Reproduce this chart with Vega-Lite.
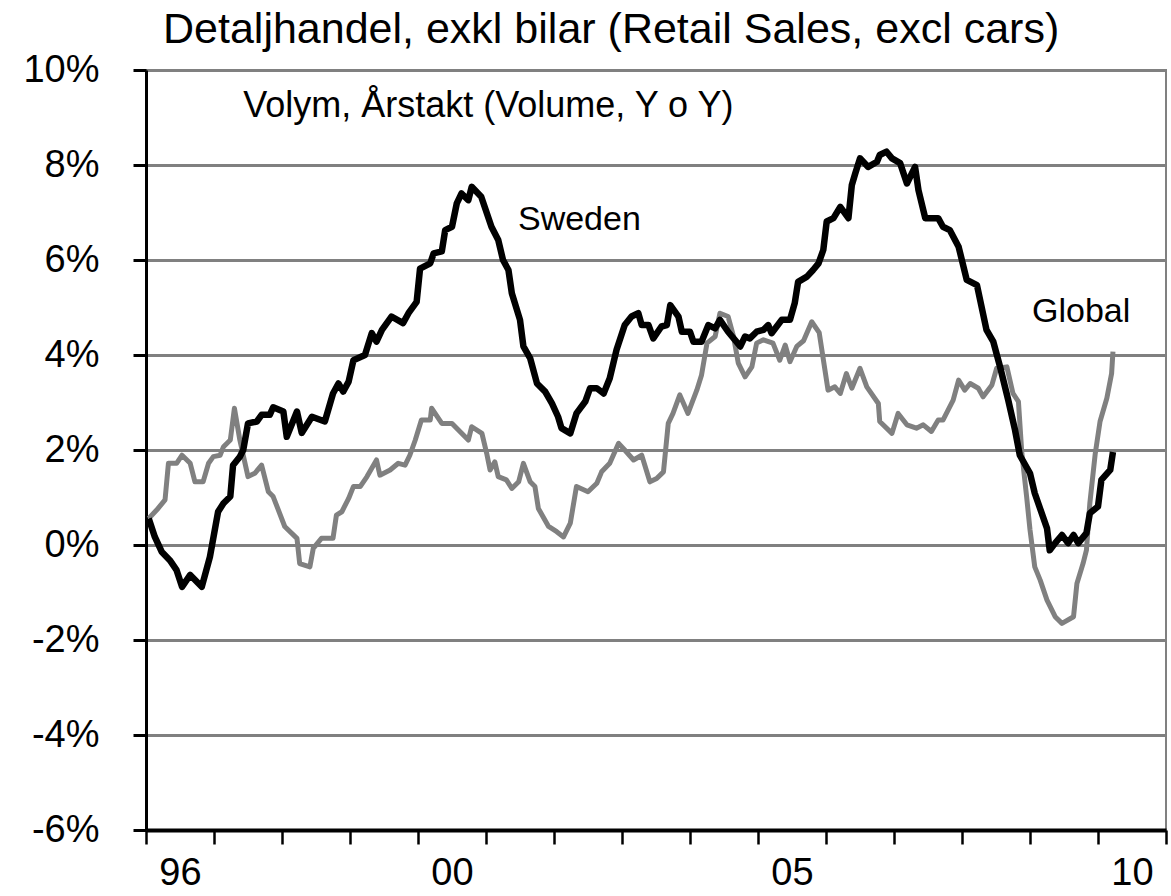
{
  "$schema": "https://vega.github.io/schema/vega-lite/v6.json",
  "autosize": {"type": "none"},
  "padding": {"left": 146, "top": 70, "right": 5, "bottom": 66},
  "width": 1020,
  "height": 760,
  "background": "white",
  "config": {
    "font": "Liberation Sans",
    "view": {"stroke": "#808080", "strokeWidth": 2}
  },
  "datasets": {
    "retail": [
      {"series": "Sweden", "t": 1996.04, "v": 0.56},
      {"series": "Sweden", "t": 1996.13, "v": 0.17},
      {"series": "Sweden", "t": 1996.23, "v": -0.14},
      {"series": "Sweden", "t": 1996.35, "v": -0.32},
      {"series": "Sweden", "t": 1996.45, "v": -0.53},
      {"series": "Sweden", "t": 1996.53, "v": -0.88},
      {"series": "Sweden", "t": 1996.65, "v": -0.63},
      {"series": "Sweden", "t": 1996.82, "v": -0.88},
      {"series": "Sweden", "t": 1996.94, "v": -0.25},
      {"series": "Sweden", "t": 1997.06, "v": 0.70},
      {"series": "Sweden", "t": 1997.14, "v": 0.88},
      {"series": "Sweden", "t": 1997.24, "v": 1.02},
      {"series": "Sweden", "t": 1997.28, "v": 1.68},
      {"series": "Sweden", "t": 1997.38, "v": 1.86},
      {"series": "Sweden", "t": 1997.43, "v": 2.00},
      {"series": "Sweden", "t": 1997.50, "v": 2.56},
      {"series": "Sweden", "t": 1997.63, "v": 2.60},
      {"series": "Sweden", "t": 1997.70, "v": 2.74},
      {"series": "Sweden", "t": 1997.82, "v": 2.74},
      {"series": "Sweden", "t": 1997.87, "v": 2.90},
      {"series": "Sweden", "t": 1998.02, "v": 2.81},
      {"series": "Sweden", "t": 1998.07, "v": 2.28},
      {"series": "Sweden", "t": 1998.22, "v": 2.81},
      {"series": "Sweden", "t": 1998.29, "v": 2.36},
      {"series": "Sweden", "t": 1998.44, "v": 2.70},
      {"series": "Sweden", "t": 1998.63, "v": 2.60},
      {"series": "Sweden", "t": 1998.75, "v": 3.19},
      {"series": "Sweden", "t": 1998.83, "v": 3.40},
      {"series": "Sweden", "t": 1998.90, "v": 3.23},
      {"series": "Sweden", "t": 1998.98, "v": 3.44},
      {"series": "Sweden", "t": 1999.05, "v": 3.89},
      {"series": "Sweden", "t": 1999.22, "v": 4.00},
      {"series": "Sweden", "t": 1999.32, "v": 4.46},
      {"series": "Sweden", "t": 1999.39, "v": 4.28},
      {"series": "Sweden", "t": 1999.47, "v": 4.53},
      {"series": "Sweden", "t": 1999.61, "v": 4.81},
      {"series": "Sweden", "t": 1999.78, "v": 4.67},
      {"series": "Sweden", "t": 1999.86, "v": 4.88},
      {"series": "Sweden", "t": 1999.98, "v": 5.12},
      {"series": "Sweden", "t": 2000.03, "v": 5.82},
      {"series": "Sweden", "t": 2000.18, "v": 5.93},
      {"series": "Sweden", "t": 2000.23, "v": 6.14},
      {"series": "Sweden", "t": 2000.35, "v": 6.18},
      {"series": "Sweden", "t": 2000.40, "v": 6.63},
      {"series": "Sweden", "t": 2000.50, "v": 6.70},
      {"series": "Sweden", "t": 2000.57, "v": 7.19},
      {"series": "Sweden", "t": 2000.64, "v": 7.40},
      {"series": "Sweden", "t": 2000.74, "v": 7.26},
      {"series": "Sweden", "t": 2000.79, "v": 7.54},
      {"series": "Sweden", "t": 2000.93, "v": 7.33},
      {"series": "Sweden", "t": 2001.08, "v": 6.70},
      {"series": "Sweden", "t": 2001.18, "v": 6.42},
      {"series": "Sweden", "t": 2001.25, "v": 6.00},
      {"series": "Sweden", "t": 2001.33, "v": 5.79},
      {"series": "Sweden", "t": 2001.38, "v": 5.30},
      {"series": "Sweden", "t": 2001.50, "v": 4.74},
      {"series": "Sweden", "t": 2001.55, "v": 4.18},
      {"series": "Sweden", "t": 2001.65, "v": 3.93},
      {"series": "Sweden", "t": 2001.75, "v": 3.40},
      {"series": "Sweden", "t": 2001.87, "v": 3.23},
      {"series": "Sweden", "t": 2001.97, "v": 2.98},
      {"series": "Sweden", "t": 2002.06, "v": 2.70},
      {"series": "Sweden", "t": 2002.11, "v": 2.46},
      {"series": "Sweden", "t": 2002.24, "v": 2.35},
      {"series": "Sweden", "t": 2002.33, "v": 2.77},
      {"series": "Sweden", "t": 2002.46, "v": 3.02},
      {"series": "Sweden", "t": 2002.53, "v": 3.30},
      {"series": "Sweden", "t": 2002.63, "v": 3.30},
      {"series": "Sweden", "t": 2002.73, "v": 3.19},
      {"series": "Sweden", "t": 2002.82, "v": 3.51},
      {"series": "Sweden", "t": 2002.92, "v": 4.11},
      {"series": "Sweden", "t": 2003.04, "v": 4.63},
      {"series": "Sweden", "t": 2003.14, "v": 4.81},
      {"series": "Sweden", "t": 2003.24, "v": 4.88},
      {"series": "Sweden", "t": 2003.29, "v": 4.63},
      {"series": "Sweden", "t": 2003.39, "v": 4.63},
      {"series": "Sweden", "t": 2003.46, "v": 4.35},
      {"series": "Sweden", "t": 2003.58, "v": 4.60},
      {"series": "Sweden", "t": 2003.66, "v": 4.63},
      {"series": "Sweden", "t": 2003.71, "v": 5.05},
      {"series": "Sweden", "t": 2003.83, "v": 4.81},
      {"series": "Sweden", "t": 2003.88, "v": 4.49},
      {"series": "Sweden", "t": 2004.00, "v": 4.49},
      {"series": "Sweden", "t": 2004.05, "v": 4.28},
      {"series": "Sweden", "t": 2004.17, "v": 4.28},
      {"series": "Sweden", "t": 2004.27, "v": 4.63},
      {"series": "Sweden", "t": 2004.37, "v": 4.56},
      {"series": "Sweden", "t": 2004.44, "v": 4.74},
      {"series": "Sweden", "t": 2004.56, "v": 4.49},
      {"series": "Sweden", "t": 2004.74, "v": 4.18},
      {"series": "Sweden", "t": 2004.81, "v": 4.39},
      {"series": "Sweden", "t": 2004.88, "v": 4.35},
      {"series": "Sweden", "t": 2004.98, "v": 4.49},
      {"series": "Sweden", "t": 2005.08, "v": 4.53},
      {"series": "Sweden", "t": 2005.15, "v": 4.63},
      {"series": "Sweden", "t": 2005.20, "v": 4.46},
      {"series": "Sweden", "t": 2005.35, "v": 4.74},
      {"series": "Sweden", "t": 2005.47, "v": 4.74},
      {"series": "Sweden", "t": 2005.54, "v": 5.09},
      {"series": "Sweden", "t": 2005.59, "v": 5.54},
      {"series": "Sweden", "t": 2005.72, "v": 5.65},
      {"series": "Sweden", "t": 2005.81, "v": 5.79},
      {"series": "Sweden", "t": 2005.89, "v": 5.93},
      {"series": "Sweden", "t": 2005.96, "v": 6.21},
      {"series": "Sweden", "t": 2006.01, "v": 6.81},
      {"series": "Sweden", "t": 2006.11, "v": 6.88},
      {"series": "Sweden", "t": 2006.21, "v": 7.12},
      {"series": "Sweden", "t": 2006.33, "v": 6.88},
      {"series": "Sweden", "t": 2006.38, "v": 7.58},
      {"series": "Sweden", "t": 2006.43, "v": 7.82},
      {"series": "Sweden", "t": 2006.50, "v": 8.14},
      {"series": "Sweden", "t": 2006.62, "v": 7.96},
      {"series": "Sweden", "t": 2006.75, "v": 8.07},
      {"series": "Sweden", "t": 2006.79, "v": 8.21},
      {"series": "Sweden", "t": 2006.89, "v": 8.28},
      {"series": "Sweden", "t": 2006.97, "v": 8.14},
      {"series": "Sweden", "t": 2007.09, "v": 8.04},
      {"series": "Sweden", "t": 2007.19, "v": 7.61},
      {"series": "Sweden", "t": 2007.31, "v": 7.96},
      {"series": "Sweden", "t": 2007.36, "v": 7.47},
      {"series": "Sweden", "t": 2007.46, "v": 6.88},
      {"series": "Sweden", "t": 2007.65, "v": 6.88},
      {"series": "Sweden", "t": 2007.72, "v": 6.70},
      {"series": "Sweden", "t": 2007.82, "v": 6.63},
      {"series": "Sweden", "t": 2007.95, "v": 6.28},
      {"series": "Sweden", "t": 2008.07, "v": 5.58},
      {"series": "Sweden", "t": 2008.22, "v": 5.47},
      {"series": "Sweden", "t": 2008.36, "v": 4.53},
      {"series": "Sweden", "t": 2008.46, "v": 4.28},
      {"series": "Sweden", "t": 2008.56, "v": 3.75},
      {"series": "Sweden", "t": 2008.68, "v": 3.05},
      {"series": "Sweden", "t": 2008.78, "v": 2.42},
      {"series": "Sweden", "t": 2008.85, "v": 1.89},
      {"series": "Sweden", "t": 2009.00, "v": 1.51},
      {"series": "Sweden", "t": 2009.07, "v": 1.09},
      {"series": "Sweden", "t": 2009.25, "v": 0.35},
      {"series": "Sweden", "t": 2009.29, "v": -0.11},
      {"series": "Sweden", "t": 2009.37, "v": 0.04},
      {"series": "Sweden", "t": 2009.47, "v": 0.21},
      {"series": "Sweden", "t": 2009.56, "v": 0.04},
      {"series": "Sweden", "t": 2009.64, "v": 0.21},
      {"series": "Sweden", "t": 2009.71, "v": 0.04},
      {"series": "Sweden", "t": 2009.83, "v": 0.25},
      {"series": "Sweden", "t": 2009.88, "v": 0.67},
      {"series": "Sweden", "t": 2010.00, "v": 0.81},
      {"series": "Sweden", "t": 2010.05, "v": 1.37},
      {"series": "Sweden", "t": 2010.18, "v": 1.58},
      {"series": "Sweden", "t": 2010.22, "v": 1.96},
      {"series": "Global", "t": 1996.04, "v": 0.56},
      {"series": "Global", "t": 1996.16, "v": 0.74},
      {"series": "Global", "t": 1996.28, "v": 0.95},
      {"series": "Global", "t": 1996.33, "v": 1.72},
      {"series": "Global", "t": 1996.45, "v": 1.72},
      {"series": "Global", "t": 1996.53, "v": 1.89},
      {"series": "Global", "t": 1996.65, "v": 1.72},
      {"series": "Global", "t": 1996.72, "v": 1.33},
      {"series": "Global", "t": 1996.84, "v": 1.33},
      {"series": "Global", "t": 1996.92, "v": 1.72},
      {"series": "Global", "t": 1996.99, "v": 1.86},
      {"series": "Global", "t": 1997.09, "v": 1.89},
      {"series": "Global", "t": 1997.14, "v": 2.07},
      {"series": "Global", "t": 1997.24, "v": 2.21},
      {"series": "Global", "t": 1997.30, "v": 2.88},
      {"series": "Global", "t": 1997.38, "v": 2.21},
      {"series": "Global", "t": 1997.50, "v": 1.44},
      {"series": "Global", "t": 1997.60, "v": 1.51},
      {"series": "Global", "t": 1997.70, "v": 1.68},
      {"series": "Global", "t": 1997.80, "v": 1.12},
      {"series": "Global", "t": 1997.87, "v": 1.02},
      {"series": "Global", "t": 1998.04, "v": 0.39},
      {"series": "Global", "t": 1998.22, "v": 0.14},
      {"series": "Global", "t": 1998.26, "v": -0.39},
      {"series": "Global", "t": 1998.41, "v": -0.46},
      {"series": "Global", "t": 1998.46, "v": -0.07},
      {"series": "Global", "t": 1998.58, "v": 0.14},
      {"series": "Global", "t": 1998.75, "v": 0.14},
      {"series": "Global", "t": 1998.80, "v": 0.63},
      {"series": "Global", "t": 1998.88, "v": 0.70},
      {"series": "Global", "t": 1998.98, "v": 0.98},
      {"series": "Global", "t": 1999.05, "v": 1.23},
      {"series": "Global", "t": 1999.15, "v": 1.23},
      {"series": "Global", "t": 1999.25, "v": 1.44},
      {"series": "Global", "t": 1999.39, "v": 1.79},
      {"series": "Global", "t": 1999.44, "v": 1.47},
      {"series": "Global", "t": 1999.59, "v": 1.58},
      {"series": "Global", "t": 1999.71, "v": 1.72},
      {"series": "Global", "t": 1999.81, "v": 1.68},
      {"series": "Global", "t": 1999.88, "v": 1.89},
      {"series": "Global", "t": 1999.96, "v": 2.21},
      {"series": "Global", "t": 2000.05, "v": 2.63},
      {"series": "Global", "t": 2000.18, "v": 2.63},
      {"series": "Global", "t": 2000.20, "v": 2.88},
      {"series": "Global", "t": 2000.35, "v": 2.56},
      {"series": "Global", "t": 2000.50, "v": 2.56},
      {"series": "Global", "t": 2000.74, "v": 2.21},
      {"series": "Global", "t": 2000.79, "v": 2.49},
      {"series": "Global", "t": 2000.94, "v": 2.35},
      {"series": "Global", "t": 2001.01, "v": 1.93},
      {"series": "Global", "t": 2001.06, "v": 1.58},
      {"series": "Global", "t": 2001.13, "v": 1.75},
      {"series": "Global", "t": 2001.18, "v": 1.44},
      {"series": "Global", "t": 2001.30, "v": 1.37},
      {"series": "Global", "t": 2001.38, "v": 1.19},
      {"series": "Global", "t": 2001.48, "v": 1.33},
      {"series": "Global", "t": 2001.55, "v": 1.72},
      {"series": "Global", "t": 2001.65, "v": 1.33},
      {"series": "Global", "t": 2001.72, "v": 1.23},
      {"series": "Global", "t": 2001.77, "v": 0.77},
      {"series": "Global", "t": 2001.92, "v": 0.39},
      {"series": "Global", "t": 2002.04, "v": 0.28},
      {"series": "Global", "t": 2002.14, "v": 0.17},
      {"series": "Global", "t": 2002.24, "v": 0.46},
      {"series": "Global", "t": 2002.33, "v": 1.23},
      {"series": "Global", "t": 2002.50, "v": 1.12},
      {"series": "Global", "t": 2002.63, "v": 1.30},
      {"series": "Global", "t": 2002.70, "v": 1.54},
      {"series": "Global", "t": 2002.82, "v": 1.72},
      {"series": "Global", "t": 2002.95, "v": 2.14},
      {"series": "Global", "t": 2003.04, "v": 2.00},
      {"series": "Global", "t": 2003.17, "v": 1.79},
      {"series": "Global", "t": 2003.29, "v": 1.89},
      {"series": "Global", "t": 2003.41, "v": 1.33},
      {"series": "Global", "t": 2003.51, "v": 1.40},
      {"series": "Global", "t": 2003.61, "v": 1.54},
      {"series": "Global", "t": 2003.68, "v": 2.56},
      {"series": "Global", "t": 2003.75, "v": 2.77},
      {"series": "Global", "t": 2003.85, "v": 3.16},
      {"series": "Global", "t": 2003.97, "v": 2.77},
      {"series": "Global", "t": 2004.10, "v": 3.26},
      {"series": "Global", "t": 2004.17, "v": 3.58},
      {"series": "Global", "t": 2004.25, "v": 4.25},
      {"series": "Global", "t": 2004.37, "v": 4.39},
      {"series": "Global", "t": 2004.44, "v": 4.88},
      {"series": "Global", "t": 2004.56, "v": 4.81},
      {"series": "Global", "t": 2004.64, "v": 4.39},
      {"series": "Global", "t": 2004.71, "v": 3.83},
      {"series": "Global", "t": 2004.81, "v": 3.54},
      {"series": "Global", "t": 2004.91, "v": 3.75},
      {"series": "Global", "t": 2004.98, "v": 4.25},
      {"series": "Global", "t": 2005.08, "v": 4.32},
      {"series": "Global", "t": 2005.22, "v": 4.25},
      {"series": "Global", "t": 2005.32, "v": 3.89},
      {"series": "Global", "t": 2005.40, "v": 4.21},
      {"series": "Global", "t": 2005.47, "v": 3.86},
      {"series": "Global", "t": 2005.57, "v": 4.18},
      {"series": "Global", "t": 2005.67, "v": 4.30},
      {"series": "Global", "t": 2005.79, "v": 4.70},
      {"series": "Global", "t": 2005.90, "v": 4.47},
      {"series": "Global", "t": 2006.03, "v": 3.26},
      {"series": "Global", "t": 2006.13, "v": 3.33},
      {"series": "Global", "t": 2006.21, "v": 3.19},
      {"series": "Global", "t": 2006.30, "v": 3.61},
      {"series": "Global", "t": 2006.38, "v": 3.30},
      {"series": "Global", "t": 2006.50, "v": 3.72},
      {"series": "Global", "t": 2006.60, "v": 3.33},
      {"series": "Global", "t": 2006.77, "v": 2.98},
      {"series": "Global", "t": 2006.79, "v": 2.60},
      {"series": "Global", "t": 2006.97, "v": 2.35},
      {"series": "Global", "t": 2007.06, "v": 2.77},
      {"series": "Global", "t": 2007.19, "v": 2.53},
      {"series": "Global", "t": 2007.33, "v": 2.46},
      {"series": "Global", "t": 2007.43, "v": 2.53},
      {"series": "Global", "t": 2007.55, "v": 2.39},
      {"series": "Global", "t": 2007.65, "v": 2.63},
      {"series": "Global", "t": 2007.72, "v": 2.63},
      {"series": "Global", "t": 2007.87, "v": 3.05},
      {"series": "Global", "t": 2007.95, "v": 3.47},
      {"series": "Global", "t": 2008.04, "v": 3.26},
      {"series": "Global", "t": 2008.12, "v": 3.40},
      {"series": "Global", "t": 2008.24, "v": 3.30},
      {"series": "Global", "t": 2008.31, "v": 3.12},
      {"series": "Global", "t": 2008.44, "v": 3.37},
      {"series": "Global", "t": 2008.51, "v": 3.72},
      {"series": "Global", "t": 2008.66, "v": 3.75},
      {"series": "Global", "t": 2008.75, "v": 3.19},
      {"series": "Global", "t": 2008.83, "v": 3.02},
      {"series": "Global", "t": 2008.88, "v": 1.93},
      {"series": "Global", "t": 2008.95, "v": 1.02},
      {"series": "Global", "t": 2009.00, "v": 0.32},
      {"series": "Global", "t": 2009.07, "v": -0.46},
      {"series": "Global", "t": 2009.15, "v": -0.74},
      {"series": "Global", "t": 2009.25, "v": -1.16},
      {"series": "Global", "t": 2009.37, "v": -1.51},
      {"series": "Global", "t": 2009.47, "v": -1.65},
      {"series": "Global", "t": 2009.64, "v": -1.51},
      {"series": "Global", "t": 2009.69, "v": -0.81},
      {"series": "Global", "t": 2009.78, "v": -0.39},
      {"series": "Global", "t": 2009.83, "v": -0.11},
      {"series": "Global", "t": 2009.88, "v": 0.88},
      {"series": "Global", "t": 2009.96, "v": 1.93},
      {"series": "Global", "t": 2010.03, "v": 2.60},
      {"series": "Global", "t": 2010.13, "v": 3.09},
      {"series": "Global", "t": 2010.20, "v": 3.61},
      {"series": "Global", "t": 2010.22, "v": 4.07}
    ]
  },
  "encoding": {
    "x": {
      "field": "t",
      "type": "quantitative",
      "scale": {"domain": [1996, 2011], "nice": false, "zero": false},
      "axis": {
        "title": null,
        "values": [1996, 1997, 1998, 1999, 2000, 2001, 2002, 2003, 2004, 2005, 2006, 2007, 2008, 2009, 2010, 2011],
        "labelExpr": "indexof([1996, 2000, 2005, 2010], datum.value) >= 0 ? substring(toString(datum.value), 2, 4) : ''",
        "labelOffset": 34,
        "labelFontSize": 38,
        "labelColor": "black",
        "labelFont": "Liberation Sans",
        "labelPadding": 10,
        "labelFlush": false,
        "labelOverlap": false,
        "grid": false,
        "domainColor": "black",
        "domainWidth": 4,
        "tickColor": "black",
        "tickWidth": 2.5,
        "tickSize": 14
      }
    },
    "y": {
      "field": "v",
      "type": "quantitative",
      "scale": {"domain": [-6, 10], "nice": false, "zero": false},
      "axis": {
        "title": null,
        "values": [-6, -4, -2, 0, 2, 4, 6, 8, 10],
        "labelExpr": "datum.value + '%'",
        "labelFontSize": 38,
        "labelColor": "black",
        "labelFont": "Liberation Sans",
        "labelPadding": 34,
        "labelFlush": false,
        "labelOverlap": false,
        "grid": true,
        "gridColor": "#808080",
        "gridWidth": 3,
        "domainColor": "black",
        "domainWidth": 3,
        "tickColor": "black",
        "tickWidth": 3,
        "tickSize": 13
      }
    }
  },
  "layer": [
    {
      "data": {"name": "retail"},
      "transform": [{"filter": "datum.series === 'Global'"}],
      "mark": {"type": "line", "color": "#808080", "strokeWidth": 5, "strokeJoin": "round"}
    },
    {
      "data": {"name": "retail"},
      "transform": [{"filter": "datum.series === 'Sweden'"}],
      "mark": {"type": "line", "color": "#000000", "strokeWidth": 6.5, "strokeJoin": "round"}
    },
    {
      "data": {"values": [{"label": "Detaljhandel, exkl bilar (Retail Sales, excl cars)", "t": 1996.25, "v": 10.57}]},
      "mark": {"type": "text", "align": "left", "baseline": "alphabetic", "fontSize": 43, "font": "Liberation Sans", "color": "black"},
      "encoding": {"text": {"field": "label"}}
    },
    {
      "data": {"values": [{"label": "Volym, Årstakt (Volume, Y o Y)", "t": 1997.43, "v": 9.01}]},
      "mark": {"type": "text", "align": "left", "baseline": "alphabetic", "fontSize": 36, "font": "Liberation Sans", "color": "black"},
      "encoding": {"text": {"field": "label"}}
    },
    {
      "data": {"values": [{"label": "Sweden", "t": 2001.47, "v": 6.63}]},
      "mark": {"type": "text", "align": "left", "baseline": "alphabetic", "fontSize": 34, "font": "Liberation Sans", "color": "black"},
      "encoding": {"text": {"field": "label"}}
    },
    {
      "data": {"values": [{"label": "Global", "t": 2009.03, "v": 4.69}]},
      "mark": {"type": "text", "align": "left", "baseline": "alphabetic", "fontSize": 34, "font": "Liberation Sans", "color": "black"},
      "encoding": {"text": {"field": "label"}}
    }
  ]
}
